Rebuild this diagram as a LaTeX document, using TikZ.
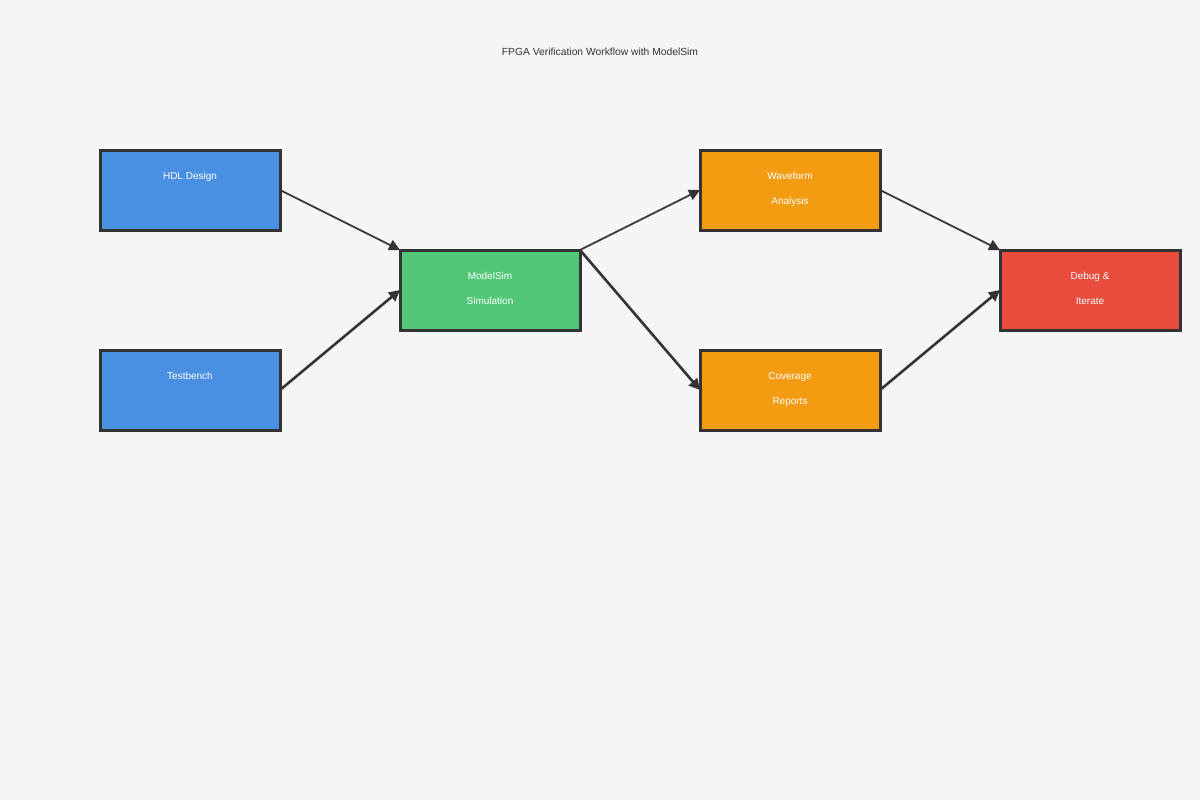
\documentclass[tikz,border=0pt]{standalone}
\usepackage{fontspec}
\setmainfont{Liberation Sans}
\usetikzlibrary{arrows.meta}

\definecolor{bgcol}{HTML}{F5F5F5}
\definecolor{edgecol}{HTML}{333333}
\definecolor{hdlblue}{HTML}{4A90E2}
\definecolor{simgreen}{HTML}{50C878}
\definecolor{reporange}{HTML}{F39C12}
\definecolor{dbgred}{HTML}{E74C3C}

\tikzset{
  blk/.style={draw=edgecol, line width=3pt, minimum width=180pt,
    minimum height=80pt, outer sep=0pt, inner sep=0pt},
  txt/.style={text=white, font=\fontsize{10}{12}\selectfont, inner sep=0pt,
    text height=7pt, text depth=2pt},
  flow/.style={draw=edgecol, line width=1.6pt,
    -{Triangle[length=11pt, width=11pt]}},
  flowthick/.style={flow, line width=2.6pt}
}

\begin{document}
\begin{tikzpicture}[x=1pt, y=-1pt]
  % canvas
  \fill[bgcol] (0,0) rectangle (1200,800);
  \useasboundingbox (0,0) rectangle (1200,800);
  % title
  \node[font=\fontsize{10.3}{12}\selectfont, text=edgecol] (title) at (600,51.5)
    {FPGA Verification Workflow with ModelSim};
  % stage boxes
  \node[blk, fill=hdlblue] (hdl) at (190,190) {};
  \node[blk, fill=hdlblue] (tb) at (190,390) {};
  \node[blk, fill=simgreen] (sim) at (490,290) {};
  \node[blk, fill=reporange] (wave) at (790,190) {};
  \node[blk, fill=reporange] (cov) at (790,390) {};
  \node[blk, fill=dbgred] (dbg) at (1090,290) {};
  % box labels, 25 apart when split over two lines
  \node[txt] (hdl-t) at (190,177) {HDL Design};
  \node[txt] (tb-t) at (190,377) {Testbench};
  \node[txt] (sim-t1) at (490,277) {ModelSim};
  \node[txt] (sim-t2) at (490,302) {Simulation};
  \node[txt] (wave-t1) at (790,177) {Waveform};
  \node[txt] (wave-t2) at (790,202) {Analysis};
  \node[txt] (cov-t1) at (790,377) {Coverage};
  \node[txt] (cov-t2) at (790,402) {Reports};
  \node[txt] (dbg-t1) at (1090,277) {Debug \&};
  \node[txt] (dbg-t2) at (1090,302) {Iterate};
  % connectors
  \draw[flow] (hdl.east) -- (sim.north west);
  \draw[flowthick] (tb.east) -- (sim.west);
  \draw[flow] (sim.north east) -- (wave.west);
  \draw[flowthick] (sim.north east) -- (cov.west);
  \draw[flow] (wave.east) -- (dbg.north west);
  \draw[flowthick] (cov.east) -- (dbg.west);
\end{tikzpicture}
\end{document}
